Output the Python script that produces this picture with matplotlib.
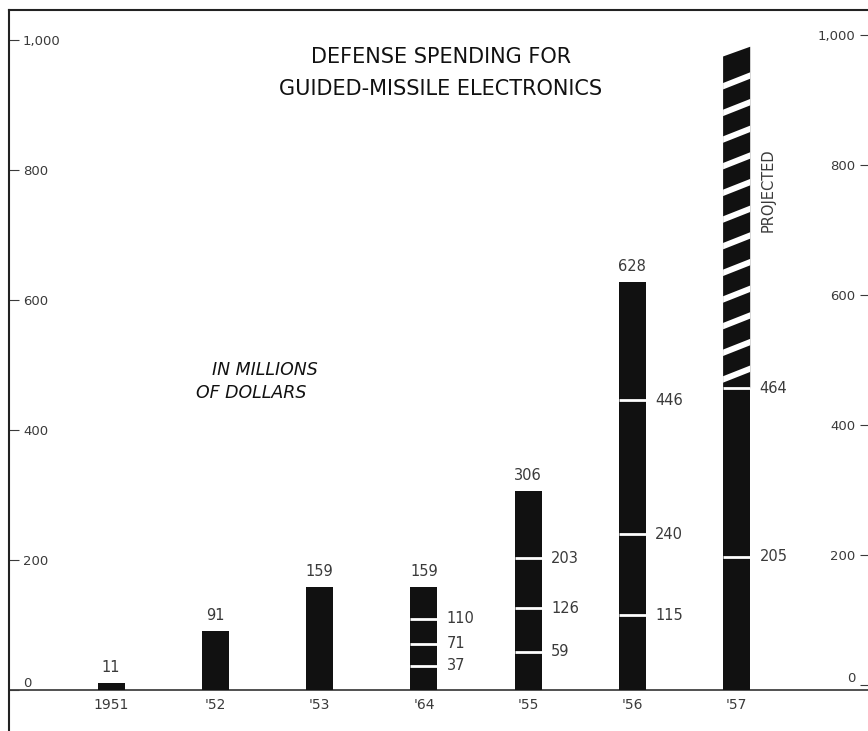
import numpy as np
import matplotlib.pyplot as plt
from matplotlib.patches import Polygon

# data (millions of dollars)
years = ["1951", "'52", "'53", "'64", "'55", "'56", "'57"]
totals = [11, 91, 159, 159, 306, 628, 464]
top_labels = ["11", "91", "159", "159", "306", "628", None]
# inner breakdown lines, labelled at the right side of each bar
splits = {3: [110, 71, 37], 4: [203, 126, 59], 5: [446, 240, 115], 6: [464, 205]}
projected_1957 = 982

left_ticks = [0, 200, 400, 600, 800, 1000]
left_labels = ["0", "200", "400", "600", "800", "1,000"]

ink = "#111111"
grey = "#3a3a3a"

fig = plt.figure(figsize=(8.68, 7.31), dpi=100)
ax = fig.add_axes([9 / 868, 0, 1 - 9 / 868, 721 / 731])
ax.set_xlim(-0.98, 7.26)
ax.set_ylim(-63, 1046)

x = np.arange(len(years))
w = 0.26

ax.bar(x, totals, width=w, color=ink, zorder=2)

# projected part of 1957: black column with white slanted stripes
i57 = 6
slant = 15
proj = Polygon([(x[i57] - w / 2, totals[i57]), (x[i57] + w / 2, totals[i57]),
                (x[i57] + w / 2, projected_1957 + slant / 2),
                (x[i57] - w / 2, projected_1957 - slant / 2)],
               closed=True, facecolor=ink, edgecolor="none", zorder=2)
ax.add_patch(proj)
for v in np.arange(totals[i57] + 22, projected_1957 - 20, 41):
    ln, = ax.plot([x[i57] - w / 2 - 0.02, x[i57] + w / 2 + 0.02],
                  [v - slant / 2 - 2, v + slant / 2 + 2],
                  color="white", lw=4.3, zorder=3, solid_capstyle="butt")
    ln.set_clip_path(proj)

# white dividers and side labels
for i, vals in splits.items():
    ax.hlines(vals, x[i] - w / 2, x[i] + w / 2, color="white", lw=2, zorder=3)
    for v in vals:
        ax.text(x[i] + w / 2 + 0.09, v, str(v), ha="left", va="center",
                fontsize=10.5, color=grey)

for i, lab in enumerate(top_labels):
    if lab:
        ax.text(x[i], totals[i] + 12, lab, ha="center", va="bottom",
                fontsize=10.5, color=grey)

for i, yr in enumerate(years):
    ax.text(x[i], -23, yr, ha="center", va="center", fontsize=10, color=grey)

ax.text(x[i57] + w / 2 + 0.1, 769, "PROJECTED", rotation=90, ha="left",
        va="center", fontsize=10.5, color=grey)

ax.text(3.16, 974, "DEFENSE SPENDING FOR", ha="center", va="center",
        fontsize=15, color=ink)
ax.text(3.16, 925, "GUIDED-MISSILE ELECTRONICS", ha="center", va="center",
        fontsize=15, color=ink)
ax.text(1.47, 492, "IN MILLIONS", ha="center", va="center", fontsize=12.5,
        style="italic", color=ink)
ax.text(1.34, 457, "OF DOLLARS", ha="center", va="center", fontsize=12.5,
        style="italic", color=ink)

ax.axhline(0, color="#333333", lw=1.2, zorder=1)

# left axis, labels inside
ax.set_xticks([])
ax.set_yticks(left_ticks)
ax.set_yticklabels(left_labels)
ax.tick_params(axis="y", direction="in", length=7, width=0.8, color=grey,
               labelsize=9.5, labelcolor=grey, pad=-10)
for lab in ax.get_yticklabels():
    lab.set_horizontalalignment("left")
ax.get_yticklabels()[0].set_verticalalignment("bottom")
ax.spines["left"].set_linewidth(1.5)
ax.spines["top"].set_linewidth(1.5)
ax.spines["left"].set_color("#222222")
ax.spines["top"].set_color("#222222")
ax.spines["right"].set_visible(False)
ax.spines["bottom"].set_visible(False)

# right axis, drawn slightly higher as in the original artwork
ax2 = ax.twinx()
ax2.set_ylim(-71, 1038)
ax2.set_yticks(left_ticks)
ax2.set_yticklabels(left_labels)
ax2.tick_params(axis="y", direction="in", length=6, width=0.8, color=grey,
                labelsize=9.5, labelcolor=grey, pad=-9)
for lab in ax2.get_yticklabels():
    lab.set_horizontalalignment("right")
ax2.get_yticklabels()[0].set_verticalalignment("bottom")
for s in ax2.spines.values():
    s.set_visible(False)

fig.savefig("out.png", dpi=100, facecolor="white")
